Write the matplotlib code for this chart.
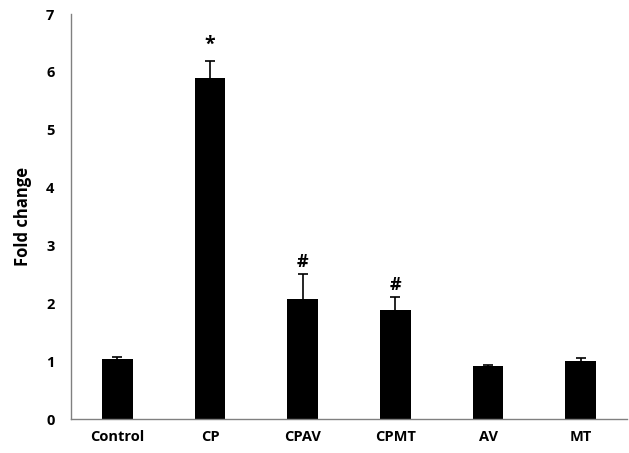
import matplotlib
matplotlib.use("Agg")
import matplotlib.pyplot as plt
import numpy as np

groups = ["Control", "CP", "CPAV", "CPMT", "AV", "MT"]
fold_change = [1.04, 5.90, 2.08, 1.89, 0.92, 1.00]
err_up = [0.035, 0.29, 0.42, 0.22, 0.01, 0.06]
marks = ["", "*", "#", "#", "", ""]

plt.rcParams['font.family'] = ['Open Sans', 'DejaVu Sans']

fig = plt.figure(figsize=(6.29, 4.53), dpi=100)
ax = fig.add_axes([0.113, 0.075, 0.884, 0.894])

x = np.arange(len(groups))
lower = np.zeros(len(groups))
ax.bar(x, fold_change, width=0.33, color='black', zorder=2)
eb = ax.errorbar(x, fold_change, yerr=[lower, err_up], fmt='none', ecolor='black',
                 elinewidth=1.2, capsize=3.5, capthick=1.2, zorder=1)
# only the upper cap is shown
eb[1][0].set_visible(False)

for xi, v, e, m in zip(x, fold_change, err_up, marks):
    if m == "*":
        ax.text(xi, v + e + 0.1, m, ha='center', va='bottom', fontsize=14, fontweight='bold')
    elif m:
        ax.text(xi, v + e + 0.05, m, ha='center', va='bottom', fontsize=13, fontweight='bold')

ax.set_xlim(-0.5, len(groups) - 0.5)
ax.set_ylim(0, 7)
ax.set_yticks(range(8))
ax.set_xticks(x)
ax.set_xticklabels(groups)
ax.tick_params(axis='both', length=0, labelsize=10.5, pad=8)
ax.tick_params(axis='y', pad=12)
for lab in ax.get_xticklabels() + ax.get_yticklabels():
    lab.set_fontweight('bold')

ax.set_ylabel("Fold change", fontsize=12, fontweight='bold', labelpad=10)

for s in ['top', 'right']:
    ax.spines[s].set_visible(False)
for s in ['left', 'bottom']:
    ax.spines[s].set_color('#808080')
    ax.spines[s].set_linewidth(1.0)

fig.savefig("out.png", dpi=100)
